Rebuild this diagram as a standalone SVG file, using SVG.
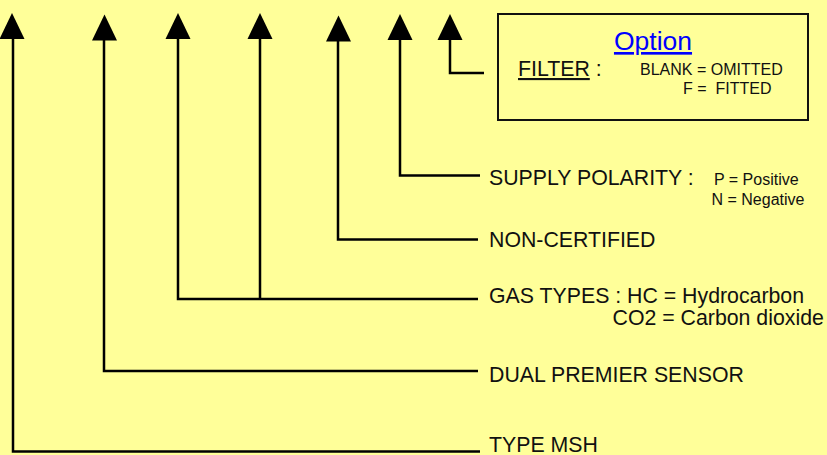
<svg xmlns="http://www.w3.org/2000/svg" xmlns:xlink="http://www.w3.org/1999/xlink" width="827" height="455" viewBox="0 0 827 455">
<style>
.bg{fill:#FFFF99}
.ln{fill:none;stroke:#000;stroke-width:2.5;stroke-linejoin:miter}
.ah{fill:#000}
.t{font-family:"Liberation Sans",Arial,sans-serif;fill:#111}
.big{font-size:21.3px}
.sm{font-size:16px}
.box{fill:none;stroke:#111;stroke-width:2}
.opt{font-size:26.5px;fill:#0000FF;text-decoration:underline}
</style>
<defs>
<polygon id="ah" class="ah" points="0,-13 12.5,13 -12.5,13"/>
</defs>
<rect class="bg" x="0" y="0" width="827" height="455"/>
<g id="connectors">
<path class="ln" d="M450,39 V73 H484"/>
<path class="ln" d="M400,39 V175.5 H480"/>
<path class="ln" d="M338,40 V239.5 H478"/>
<path class="ln" d="M260,39 V299"/>
<path class="ln" d="M178,39 V299 H478"/>
<path class="ln" d="M104,40 V371 H478"/>
<path class="ln" d="M13,39 V451.5 H480"/>
<use xlink:href="#ah" x="12" y="26"/>
<use xlink:href="#ah" x="104.5" y="27.5"/>
<use xlink:href="#ah" x="178" y="26"/>
<use xlink:href="#ah" x="260" y="26"/>
<use xlink:href="#ah" x="338.5" y="28.5"/>
<use xlink:href="#ah" x="400" y="27"/>
<use xlink:href="#ah" x="450" y="27"/>
</g>
<g id="option">
<rect class="box" x="498" y="14" width="310" height="106"/>
<text class="t opt" x="653" y="50" text-anchor="middle">Option</text>
<text class="t big" x="518" y="76"><tspan text-decoration="underline">FILTER</tspan> :</text>
<text class="t sm" x="640" y="75">BLANK = OMITTED</text>
<text class="t sm" x="683" y="93.5" xml:space="preserve">F =  FITTED</text>
</g>
<g id="supply">
<text class="t big" x="489" y="185">SUPPLY POLARITY :</text>
<text class="t sm" x="714" y="185">P = Positive</text>
<text class="t sm" x="711.5" y="204.5">N = Negative</text>
</g>
<g id="noncert">
<text class="t big" x="489" y="247">NON-CERTIFIED</text>
</g>
<g id="gastypes">
<text class="t big" x="489" y="303">GAS TYPES : HC = Hydrocarbon</text>
<text class="t big" x="612.5" y="324.5">CO2 = Carbon dioxide</text>
</g>
<g id="dual">
<text class="t big" x="489" y="382">DUAL PREMIER SENSOR</text>
</g>
<g id="type">
<text class="t big" x="489" y="452">TYPE MSH</text>
</g>
</svg>
